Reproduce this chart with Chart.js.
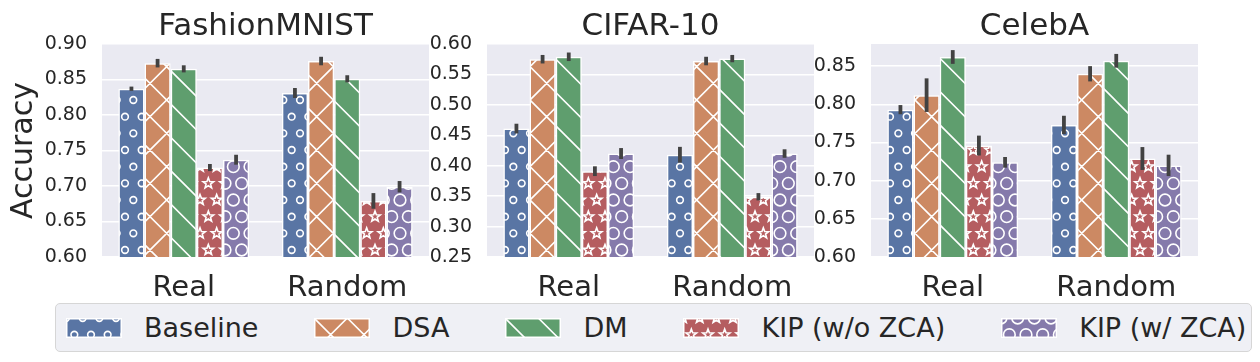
<!DOCTYPE html>
<html>
<head>
<meta charset="utf-8">
<script src="https://cdn.jsdelivr.net/npm/chart.js@4/dist/chart.umd.min.js"></script>
<style>
  body { margin: 0; background: #fff; font-family: "DejaVu Sans", sans-serif; }
  #wrap { position: relative; width: 1260px; height: 362px; overflow: hidden; }
  canvas.panel { position: absolute; top: 0; }
  #legend {
    position: absolute; left: 55px; top: 303px; width: 1197px; height: 49px;
    box-sizing: border-box; border: 1px solid #d6d6d6; border-radius: 5px;
    background: #eff0f5; display: flex; align-items: center; padding-left: 10px;
    column-gap: 56px; color: #262626; font-size: 27px;
  }
  .item { display: flex; align-items: center; white-space: nowrap; }
  .item canvas { margin-right: 22px; }
</style>
</head>
<body>
<div id="wrap">
  <canvas id="c1" class="panel" width="432" height="300" style="left:0px"></canvas>
  <canvas id="c2" class="panel" width="387" height="300" style="left:430px"></canvas>
  <canvas id="c3" class="panel" width="386" height="300" style="left:815px"></canvas>
  <div id="legend"></div>
</div>
<script>
// categories and series
const categories = ['Real', 'Random'];
const seriesNames = ['Baseline', 'DSA', 'DM', 'KIP (w/o ZCA)', 'KIP (w/ ZCA)'];
const seriesColors = ['#5975A4', '#CC8963', '#5F9E6E', '#B55D60', '#857AAB'];
const seriesHatches = ['o', 'x', '\\', '*', 'O'];

// FashionMNIST: one row per series, [Real, Random]
const fmnistMeans = [[0.837, 0.831], [0.873, 0.876], [0.865, 0.851], [0.726, 0.679], [0.737, 0.699]];
const fmnistErrs  = [[0.003, 0.007], [0.006, 0.006], [0.005, 0.005], [0.005, 0.011], [0.007, 0.008]];
const fmnistTicks = [0.60, 0.65, 0.70, 0.75, 0.80, 0.85, 0.90];
const fmnistRange = [0.60, 0.90];

// CIFAR-10
const cifarMeans = [[0.461, 0.418], [0.575, 0.572], [0.579, 0.576], [0.391, 0.349], [0.420, 0.420]];
const cifarErrs  = [[0.008, 0.013], [0.007, 0.007], [0.007, 0.006], [0.008, 0.006], [0.009, 0.007]];
const cifarTicks = [0.25, 0.30, 0.35, 0.40, 0.45, 0.50, 0.55, 0.60];
const cifarRange = [0.25, 0.60];

// CelebA
const celebaMeans = [[0.793, 0.773], [0.812, 0.840], [0.862, 0.857], [0.746, 0.729], [0.724, 0.720]];
const celebaErrs  = [[0.006, 0.012], [0.022, 0.010], [0.009, 0.009], [0.013, 0.015], [0.007, 0.014]];
const celebaTicks = [0.60, 0.65, 0.70, 0.75, 0.80, 0.85];
const celebaRange = [0.60, 0.879];

const FONT = 'DejaVu Sans';
const TEXT = '#262626';

// hatch tile, 100px cell like matplotlib at 100 dpi
function drawHatch(ctx, w, h, color, hatch) {
  ctx.fillStyle = color;
  ctx.fillRect(0, 0, w, h);
  ctx.strokeStyle = '#fff';
  ctx.lineWidth = 1.6;
  const step = 100 / 6;
  if (hatch === 'x' || hatch === '\\') {
    ctx.beginPath();
    for (let c = -400; c <= 400; c += 2 * step) {
      ctx.moveTo(-200, c - 200); ctx.lineTo(300, c + 300);
      if (hatch === 'x') { ctx.moveTo(-200, c + 300); ctx.lineTo(300, c - 200); }
    }
    ctx.stroke();
    return;
  }
  for (let i = -1; i <= Math.ceil(h / step) + 1; i++) {
    const y = i * step;
    const shift = (i % 2 === 0) ? 0 : step / 2;
    for (let j = -1; j <= Math.ceil(w / step) + 1; j++) {
      const x = j * step + shift;
      ctx.beginPath();
      if (hatch === 'o') ctx.arc(x, y, 0.2 * step, 0, Math.PI * 2);
      else if (hatch === 'O') ctx.arc(x, y, 0.35 * step, 0, Math.PI * 2);
      else {
        const ro = step / 3, ri = ro * 0.42;
        for (let k = 0; k < 10; k++) {
          const r = k % 2 === 0 ? ro : ri;
          const a = -Math.PI / 2 + k * Math.PI / 5;
          const px = x + r * Math.cos(a), py = y + r * Math.sin(a);
          if (k === 0) ctx.moveTo(px, py); else ctx.lineTo(px, py);
        }
        ctx.closePath();
      }
      ctx.stroke();
    }
  }
}

function makePattern(color, hatch) {
  const tile = document.createElement('canvas');
  tile.width = 100; tile.height = 100;
  drawHatch(tile.getContext('2d'), 100, 100, color, hatch);
  return tile.getContext('2d').createPattern(tile, 'repeat');
}

const plotBg = {
  id: 'plotBg',
  beforeDraw(chart) {
    const a = chart.chartArea, ctx = chart.ctx;
    ctx.save();
    ctx.fillStyle = '#EAEAF2';
    ctx.fillRect(a.left, a.top, a.right - a.left, a.bottom - a.top);
    ctx.restore();
  }
};

// title centred over the plot area, not the whole canvas
const panelTitle = {
  id: 'panelTitle',
  afterDraw(chart, args, opts) {
    const a = chart.chartArea, ctx = chart.ctx;
    ctx.save();
    ctx.font = '31px "DejaVu Sans"';
    ctx.fillStyle = TEXT;
    ctx.textAlign = 'center';
    ctx.textBaseline = 'alphabetic';
    ctx.fillText(opts.text, (a.left + a.right) / 2, 35);
    ctx.restore();
  }
};

const errorBars = {
  id: 'errorBars',
  afterDatasetsDraw(chart) {
    const ctx = chart.ctx, ys = chart.scales.y;
    ctx.save();
    ctx.strokeStyle = '#424242';
    ctx.lineWidth = 3.8;
    chart.data.datasets.forEach((ds, d) => {
      chart.getDatasetMeta(d).data.forEach((bar, i) => {
        const m = ds.data[i], e = ds.errors[i];
        ctx.beginPath();
        ctx.moveTo(bar.x, ys.getPixelForValue(m - e));
        ctx.lineTo(bar.x, ys.getPixelForValue(m + e));
        ctx.stroke();
      });
    });
    ctx.restore();
  }
};

function buildChart(id, title, means, errs, ticks, range, yWidth, yTitle) {
  const datasets = seriesNames.map((name, k) => ({
    label: name,
    data: means[k],
    errors: errs[k],
    backgroundColor: makePattern(seriesColors[k], seriesHatches[k]),
    borderColor: '#ffffff',
    borderWidth: 1.5,
    categoryPercentage: 0.8,
    barPercentage: 1.0
  }));
  new Chart(document.getElementById(id).getContext('2d'), {
    type: 'bar',
    data: { labels: categories, datasets: datasets },
    options: {
      responsive: false,
      animation: false,
      devicePixelRatio: 1,
      layout: { padding: { left: 0, right: 3, top: 44, bottom: 0 } },
      plugins: {
        legend: { display: false },
        tooltip: { enabled: false },
        title: { display: false },
        panelTitle: { text: title }
      },
      scales: {
        x: {
          grid: { display: false },
          border: { display: false },
          ticks: { color: TEXT, font: { family: FONT, size: 29 }, padding: 6 },
          afterFit: s => { s.height = 43; }
        },
        y: {
          min: range[0], max: range[1],
          grid: { color: '#ffffff', lineWidth: 1.4, drawTicks: false },
          border: { display: false },
          ticks: {
            color: TEXT, font: { family: FONT, size: 19 }, padding: 15,
            callback: v => v.toFixed(2)
          },
          afterBuildTicks: s => { s.ticks = ticks.map(v => ({ value: v })); },
          afterFit: s => { s.width = yWidth; },
          title: {
            display: yTitle, text: 'Accuracy', color: TEXT,
            font: { family: FONT, size: 30 }, padding: { top: 6, bottom: 0 }
          }
        }
      }
    },
    plugins: [plotBg, errorBars, panelTitle]
  });
}

buildChart('c1', 'FashionMNIST', fmnistMeans, fmnistErrs, fmnistTicks, fmnistRange, 102, true);
buildChart('c2', 'CIFAR-10', cifarMeans, cifarErrs, cifarTicks, cifarRange, 57, false);
buildChart('c3', 'CelebA', celebaMeans, celebaErrs, celebaTicks, celebaRange, 56, false);

// legend
const legend = document.getElementById('legend');
seriesNames.forEach((name, k) => {
  const item = document.createElement('div');
  item.className = 'item';
  const sw = document.createElement('canvas');
  sw.width = 56; sw.height = 20;
  const ctx = sw.getContext('2d');
  drawHatch(ctx, 56, 20, seriesColors[k], seriesHatches[k]);
  ctx.strokeStyle = '#fff'; ctx.lineWidth = 1.5;
  ctx.strokeRect(0.75, 0.75, 54.5, 18.5);
  const label = document.createElement('span');
  label.textContent = name;
  item.appendChild(sw);
  item.appendChild(label);
  legend.appendChild(item);
});
</script>
</body>
</html>
